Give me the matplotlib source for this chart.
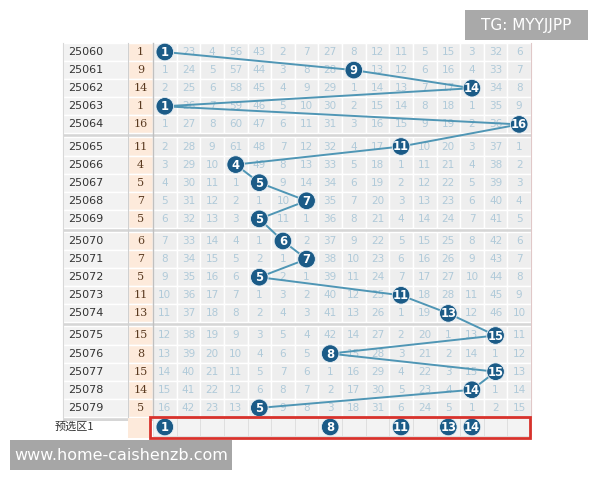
import matplotlib.pyplot as plt
from matplotlib.patches import Rectangle, Circle

plt.rcParams['font.family'] = ['Noto Sans CJK SC', 'DejaVu Sans']

# period labels, the drawn number of each period, and the omission table
periods = ['25060', '25061', '25062', '25063', '25064',
           '25065', '25066', '25067', '25068', '25069',
           '25070', '25071', '25072', '25073', '25074',
           '25075', '25076', '25077', '25078', '25079']
draws = [1, 9, 14, 1, 16, 11, 4, 5, 7, 5, 6, 7, 5, 11, 13, 15, 8, 15, 14, 5]
preset = [1, 8, 11, 13, 14]
preset_label = '预选区1'

omissions = [
    [1, 23, 4, 56, 43, 2, 7, 27, 8, 12, 11, 5, 15, 3, 32, 6],
    [1, 24, 5, 57, 44, 3, 8, 28, 9, 13, 12, 6, 16, 4, 33, 7],
    [2, 25, 6, 58, 45, 4, 9, 29, 1, 14, 13, 7, 17, 14, 34, 8],
    [1, 26, 7, 59, 46, 5, 10, 30, 2, 15, 14, 8, 18, 1, 35, 9],
    [1, 27, 8, 60, 47, 6, 11, 31, 3, 16, 15, 9, 19, 2, 36, 16],
    [2, 28, 9, 61, 48, 7, 12, 32, 4, 17, 11, 10, 20, 3, 37, 1],
    [3, 29, 10, 4, 49, 8, 13, 33, 5, 18, 1, 11, 21, 4, 38, 2],
    [4, 30, 11, 1, 5, 9, 14, 34, 6, 19, 2, 12, 22, 5, 39, 3],
    [5, 31, 12, 2, 1, 10, 7, 35, 7, 20, 3, 13, 23, 6, 40, 4],
    [6, 32, 13, 3, 5, 11, 1, 36, 8, 21, 4, 14, 24, 7, 41, 5],
    [7, 33, 14, 4, 1, 6, 2, 37, 9, 22, 5, 15, 25, 8, 42, 6],
    [8, 34, 15, 5, 2, 1, 7, 38, 10, 23, 6, 16, 26, 9, 43, 7],
    [9, 35, 16, 6, 5, 2, 1, 39, 11, 24, 7, 17, 27, 10, 44, 8],
    [10, 36, 17, 7, 1, 3, 2, 40, 12, 25, 11, 18, 28, 11, 45, 9],
    [11, 37, 18, 8, 2, 4, 3, 41, 13, 26, 1, 19, 13, 12, 46, 10],
    [12, 38, 19, 9, 3, 5, 4, 42, 14, 27, 2, 20, 1, 13, 15, 11],
    [13, 39, 20, 10, 4, 6, 5, 8, 15, 28, 3, 21, 2, 14, 1, 12],
    [14, 40, 21, 11, 5, 7, 6, 1, 16, 29, 4, 22, 3, 15, 15, 13],
    [15, 41, 22, 12, 6, 8, 7, 2, 17, 30, 5, 23, 4, 14, 1, 14],
    [16, 42, 23, 13, 5, 9, 8, 3, 18, 31, 6, 24, 5, 1, 2, 15],
]

# layout (pixels)
LEFT, VAL_X, GRID_X, RIGHT = 63, 128, 153, 531
CW = (RIGHT - GRID_X) / 16
Y0, RH, GAP = 52, 18.1, 4

def cx(col):
    return GRID_X + (col - 0.5) * CW

def ry(i):
    return Y0 + i * RH + (i // 5) * GAP

ball_c = '#1b5b87'
line_c = '#4f96b5'

fig = plt.figure(figsize=(6, 4.8), dpi=100)
ax = fig.add_axes([0, 0, 1, 1])
ax.set_xlim(0, 600)
ax.set_ylim(480, 0)
ax.axis('off')

def draw_ball(x, y, n):
    ax.add_patch(Circle((x, y), 8.8, fc=ball_c, ec='#e8f0f5', lw=0.6, zorder=4))
    ax.text(x, y + 0.5, str(n), color='white', fontsize=8.3, fontweight='bold',
            ha='center', va='center', zorder=5, family='DejaVu Sans')

# group separator bands
for g in range(1, 5):
    yb = ry(5 * g - 1) + RH / 2
    ax.add_patch(Rectangle((LEFT, yb), RIGHT - LEFT, GAP, fc='#d6d6d6', ec='none', zorder=1))

for i, per in enumerate(periods):
    y = ry(i)
    top = y - RH / 2
    ax.add_patch(Rectangle((LEFT, top), VAL_X - LEFT, RH, fc='#f2f2f2', ec='white', lw=1, zorder=1))
    ax.add_patch(Rectangle((VAL_X, top), GRID_X - VAL_X, RH, fc='#fdeadb', ec='white', lw=1, zorder=1))
    ax.text(LEFT + 5, y, per, fontsize=8, color='#333333', va='center', ha='left',
            family='DejaVu Sans')
    ax.text((VAL_X + GRID_X) / 2, y, str(draws[i]), fontsize=8, color='#5a3a20',
            va='center', ha='center', family='DejaVu Serif')
    for j, v in enumerate(omissions[i]):
        ax.add_patch(Rectangle((GRID_X + j * CW, top), CW, RH, fc='#eeeeee', ec='white',
                               lw=1, zorder=1))
        if j + 1 != draws[i]:
            ax.text(cx(j + 1), y, str(v), fontsize=7.5, color='#b0cad9', ha='center',
                    va='center', family='DejaVu Sans')

# preset row
py = ry(19) + RH + 1
ax.add_patch(Rectangle((VAL_X, py - RH / 2), GRID_X - VAL_X - 3, RH + 2, fc='#fdeadb', ec='none', zorder=1))
for j in range(16):
    ax.add_patch(Rectangle((GRID_X + j * CW, py - RH / 2), CW, RH, fc='#f3f3f3', ec='#dddddd',
                           lw=0.6, zorder=1))
ax.text(55, py, preset_label, fontsize=8, color='#333333', va='center', ha='left')
for n in preset:
    draw_ball(cx(n), py, n)
ax.add_patch(Rectangle((GRID_X - 3, py - 10.5), RIGHT - GRID_X + 2, 21, fc='none',
                       ec='#d8322c', lw=2, zorder=6))

# vertical separators and outer border
ax.plot([VAL_X, VAL_X], [ry(0) - RH / 2, ry(19) + RH / 2], color='#d0d0d0', lw=0.8, zorder=2)
ax.plot([GRID_X, GRID_X], [ry(0) - RH / 2, ry(19) + RH / 2], color='#c0c0c0', lw=1, zorder=2)
ax.plot([LEFT, LEFT], [ry(0) - RH / 2, ry(19) + RH / 2], color='#d8d8d8', lw=0.8, zorder=2)
ax.plot([RIGHT, RIGHT], [ry(0) - RH / 2, ry(19) + RH / 2], color='#e0c8c8', lw=0.8, zorder=2)

# trend line and balls
ax.plot([cx(d) for d in draws], [ry(i) for i in range(len(draws))], color=line_c, lw=1.4, zorder=3)
for i, d in enumerate(draws):
    draw_ball(cx(d), ry(i), d)

# watermarks
ax.add_patch(Rectangle((10, 440), 222, 30, fc='#a6a6a6', ec='none', zorder=7))
ax.text(121, 455.5, 'www.home-caishenzb.com', color='white', fontsize=11.5, ha='center',
        va='center', zorder=8, family='DejaVu Sans')
ax.add_patch(Rectangle((465, 10), 123, 30, fc='#a9a9a9', ec='none', zorder=7))
ax.text(526.5, 25.5, 'TG: MYYJJPP', color='white', fontsize=11, ha='center', va='center',
        zorder=8, family='DejaVu Sans')

fig.savefig('out.png', dpi=100)
